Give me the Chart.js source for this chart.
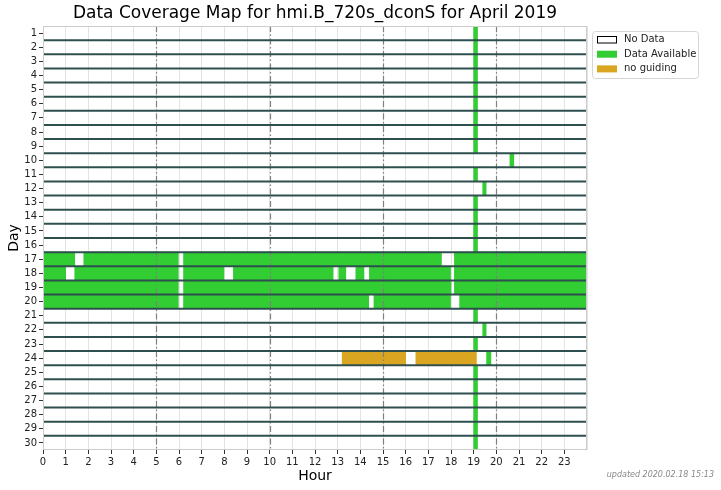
<!DOCTYPE html>
<html>
<head>
<meta charset="utf-8">
<title>Data Coverage Map</title>
<script src="https://cdn.jsdelivr.net/npm/chart.js@4.4.1/dist/chart.umd.min.js"></script>
<style>
  html, body { margin: 0; padding: 0; background: #fff; }
  canvas { display: block; }
</style>
</head>
<body>
<canvas id="coverage" width="721" height="490"></canvas>
<script>
const titleText = 'Data Coverage Map for hmi.B_720s_dconS for April 2019';
const updatedText = 'updated 2020.02.18 15:13';

const dayLabels = ['1', '2', '3', '4', '5', '6', '7', '8', '9', '10',
  '11', '12', '13', '14', '15', '16', '17', '18', '19', '20',
  '21', '22', '23', '24', '25', '26', '27', '28', '29', '30'];
const hourTicks = [0, 1, 2, 3, 4, 5, 6, 7, 8, 9, 10, 11, 12, 13, 14, 15, 16, 17, 18, 19, 20, 21, 22, 23];

// hours with data, one list of [start, end] per day
const available = [
  [[19.0, 19.17]],                       // 1
  [[19.0, 19.17]],                       // 2
  [[19.0, 19.17]],                       // 3
  [[19.0, 19.17]],                       // 4
  [[19.0, 19.17]],                       // 5
  [[19.0, 19.17]],                       // 6
  [[19.0, 19.17]],                       // 7
  [[19.0, 19.17]],                       // 8
  [[19.0, 19.17]],                       // 9
  [[20.6, 20.77]],                       // 10
  [[19.0, 19.17]],                       // 11
  [[19.4, 19.55]],                       // 12
  [[19.0, 19.17]],                       // 13
  [[19.0, 19.17]],                       // 14
  [[19.0, 19.17]],                       // 15
  [[19.0, 19.17]],                       // 16
  [[0, 1.4], [1.8, 5.97], [6.2, 17.58], [18.15, 24]],                 // 17
  [[0, 1.0], [1.4, 5.97], [6.2, 7.98], [8.4, 12.8], [13.05, 13.36],
   [13.8, 14.16], [14.4, 17.98], [18.15, 24]],                        // 18
  [[0, 5.97], [6.2, 18.0], [18.15, 24]],                             // 19
  [[0, 5.97], [6.2, 14.37], [14.6, 17.98], [18.38, 24]],             // 20
  [[19.0, 19.17]],                       // 21
  [[19.4, 19.55]],                       // 22
  [[19.0, 19.17]],                       // 23
  [[19.57, 19.76]],                      // 24
  [[19.0, 19.17]],                       // 25
  [[19.0, 19.17]],                       // 26
  [[19.0, 19.17]],                       // 27
  [[19.0, 19.17]],                       // 28
  [[19.0, 19.17]],                       // 29
  [[19.0, 19.17]]                        // 30
];

// hours flagged "no guiding"
const noGuiding = [
  [], [], [], [], [], [], [], [], [], [],
  [], [], [], [], [], [], [], [], [], [],
  [], [], [], [[13.2, 16.0], [16.45, 19.12]], [], [], [], [], [], []
];

const legendLabels = ['No Data', 'Data Available', 'no guiding'];
const legendColors = ['#ffffff', '#32cd32', '#daa520'];

const font = 'DejaVu Sans';

// one dataset per "layer" of segments so several bars can share a row
function layers(segments, color, label) {
  const n = Math.max(...segments.map(s => s.length));
  let out = [];
  for (let k = 0; k < n; k++) {
    out.push({
      label: label,
      data: segments.map(s => s[k] ? s[k] : null),
      backgroundColor: color,
      borderWidth: 0,
      grouped: false,
      barPercentage: 1,
      categoryPercentage: 1
    });
  }
  return out;
}

const decorations = {
  id: 'decorations',
  afterDatasetsDraw(chart) {
    const {ctx, chartArea: a, scales: {x, y}} = chart;
    ctx.save();
    // dash-dot lines every 5 hours
    ctx.strokeStyle = '#808080';
    ctx.lineWidth = 1.2;
    ctx.setLineDash([6, 2.5, 1.5, 2.5]);
    [5, 10, 15, 20].forEach(h => {
      const px = Math.round(x.getPixelForValue(h)) + 0.5;
      ctx.beginPath();
      ctx.moveTo(px, a.top);
      ctx.lineTo(px, a.bottom);
      ctx.stroke();
    });
    // separators between days
    ctx.setLineDash([]);
    ctx.strokeStyle = '#2f4f4f';
    ctx.lineWidth = 2;
    for (let i = 0; i < dayLabels.length - 1; i++) {
      const py = (y.getPixelForValue(i) + y.getPixelForValue(i + 1)) / 2;
      ctx.beginPath();
      ctx.moveTo(a.left, py);
      ctx.lineTo(a.right, py);
      ctx.stroke();
    }
    // frame
    ctx.strokeStyle = '#cccccc';
    ctx.lineWidth = 1;
    ctx.strokeRect(Math.round(a.left) + 0.5, Math.round(a.top) + 0.5,
      Math.round(a.width) - 1, Math.round(a.height) - 1);
    ctx.restore();
  },
  afterDraw(chart) {
    const {ctx, chartArea: a} = chart;
    ctx.save();
    // title
    ctx.fillStyle = '#000';
    ctx.font = '17px "' + font + '"';
    ctx.textAlign = 'center';
    ctx.textBaseline = 'middle';
    ctx.fillText(titleText, (a.left + a.right) / 2, 14);

    // legend
    const lx = 592, ly = 31, lw = 106, lh = 47;
    ctx.beginPath();
    ctx.roundRect(lx + 0.5, ly + 0.5, lw, lh, 3);
    ctx.fillStyle = 'rgba(255,255,255,0.8)';
    ctx.fill();
    ctx.strokeStyle = '#d5d5d5';
    ctx.lineWidth = 1;
    ctx.stroke();
    ctx.font = '10px "' + font + '"';
    ctx.textAlign = 'left';
    legendLabels.forEach((lab, i) => {
      const cy = 39.5 + i * 14.7;
      ctx.fillStyle = legendColors[i];
      ctx.fillRect(597, cy - 3.5, 20, 7);
      if (i === 0) {
        ctx.strokeStyle = '#000';
        ctx.strokeRect(597.5, cy - 3, 19, 6.5);
      }
      ctx.fillStyle = '#222';
      ctx.fillText(lab, 624, cy);
    });

    // update stamp
    ctx.font = 'italic 8px "' + font + '"';
    ctx.fillStyle = '#888';
    ctx.textAlign = 'right';
    ctx.fillText(updatedText, 714, 475);
    ctx.restore();
  }
};

new Chart(document.getElementById('coverage'), {
  type: 'bar',
  data: {
    labels: dayLabels,
    datasets: layers(noGuiding, legendColors[2], 'no guiding')
      .concat(layers(available, legendColors[1], 'Data Available'))
  },
  options: {
    responsive: false,
    animation: false,
    indexAxis: 'y',
    layout: { padding: { top: 26, right: 134, bottom: 0, left: 0 } },
    plugins: {
      legend: { display: false },
      title: { display: false },
      tooltip: { enabled: false }
    },
    scales: {
      x: {
        type: 'linear',
        min: 0,
        max: 24,
        afterFit(scale) { scale.height = 40; },
        afterBuildTicks(scale) { scale.ticks = hourTicks.concat([24]).map(v => ({ value: v })); },
        border: { display: false },
        grid: {
          color: '#e3e3e3',
          lineWidth: 1,
          tickLength: 4,
          tickColor: ctx => (ctx.tick && ctx.tick.value === 24) ? 'rgba(0,0,0,0)' : '#333'
        },
        ticks: {
          autoSkip: false,
          maxRotation: 0,
          padding: 2,
          color: '#222',
          font: { family: font, size: 10 },
          callback: v => hourTicks.includes(v) ? String(v) : ''
        },
        title: {
          display: true,
          text: 'Hour',
          color: '#000',
          padding: { top: 0, bottom: 5 },
          font: { family: font, size: 14 }
        }
      },
      y: {
        type: 'category',
        afterFit(scale) { scale.width = 43; },
        border: { display: false },
        grid: {
          offset: false,
          drawOnChartArea: false,
          tickLength: 4,
          tickColor: '#333'
        },
        ticks: {
          autoSkip: false,
          padding: 2,
          color: '#222',
          font: { family: font, size: 10 }
        },
        title: {
          display: true,
          text: 'Day',
          color: '#000',
          padding: { top: 6, bottom: 0 },
          font: { family: font, size: 14 }
        }
      }
    }
  },
  plugins: [decorations]
});
</script>
</body>
</html>
